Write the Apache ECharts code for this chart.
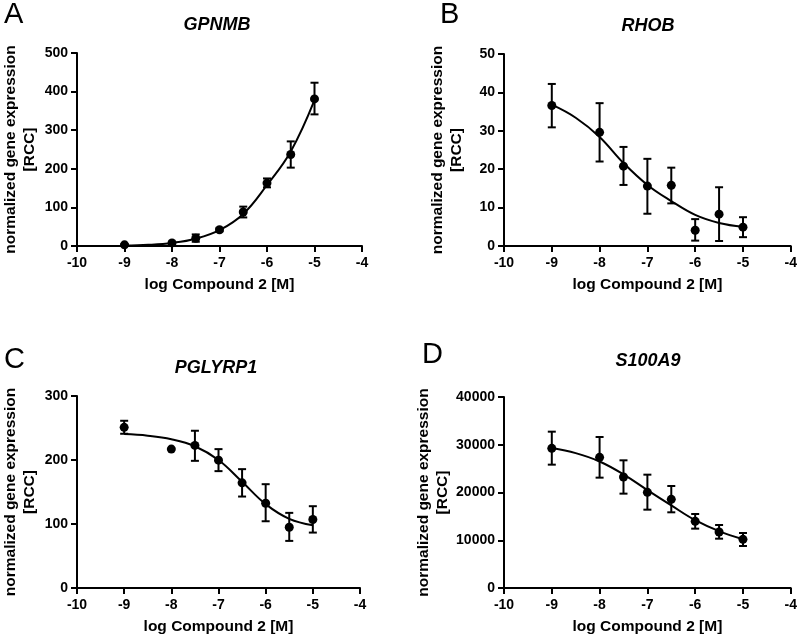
<!DOCTYPE html>
<html>
<head>
<meta charset="utf-8">
<script src="https://cdn.jsdelivr.net/npm/echarts@6/dist/echarts.min.js"></script>
<style>html,body{margin:0;padding:0;background:#fff}#c{width:800px;height:637px}</style>
</head>
<body>
<div id="c"></div>
<script>
// ---- data ----
var logConc = [-9, -8, -7.5, -7, -6.5, -6, -5.5, -5];
var curveX = [-9, -8.5, -8, -7.5, -7, -6.5, -6, -5.5, -5];

var panelLetters = ['A', 'B', 'C', 'D'];
var geneNames = ['GPNMB', 'RHOB', 'PGLYRP1', 'S100A9'];
var yMax = [500, 50, 300, 40000];
var yStep = [100, 10, 100, 10000];
var xTicks = [-10, -4, 1];

var gpnmbMean = [3, 8, 20, 42, 88, 163, 237, 381];
var gpnmbHigh = [5, 11, 30, 46, 102, 175, 271, 423];
var gpnmbLow = [1, 5, 11, 38, 74, 152, 203, 341];
var gpnmbCurve = [1, 3, 8, 19, 41, 83, 158, 245, 378];

var rhobMean = [36.6, 29.6, 20.8, 15.6, 15.8, 4.1, 8.3, 4.9];
var rhobHigh = [42.2, 37.2, 25.8, 22.7, 20.4, 7.0, 15.3, 7.5];
var rhobLow = [30.9, 22.0, 15.9, 8.4, 11.1, 1.4, 1.3, 2.3];
var rhobCurve = [36.8, 33.4, 28.4, 21.6, 15.9, 11.7, 8.1, 6.0, 5.0];

var pglyrp1Mean = [251, 217, 222.8, 199.8, 164.3, 132.5, 94.9, 107];
var pglyrp1High = [261.3, null, 245.7, 217, 185.7, 162.2, 117.4, 127.8];
var pglyrp1Low = [241, null, 198.7, 182.6, 142.9, 104.3, 73.6, 86.6];
var pglyrp1Curve = [240.5, 238, 232.5, 221.5, 200, 166, 131, 108, 98];

var s100a9Mean = [29250, 27365, 23250, 20035, 18570, 13960, 11730, 10190];
var s100a9High = [32740, 31620, 26740, 23735, 21360, 15500, 13190, 11520];
var s100a9Low = [25830, 23110, 19760, 16405, 15850, 12430, 10330, 8800];
var s100a9Curve = [29300, 28250, 26500, 23800, 20500, 17300, 14200, 11900, 10200];

var means = [gpnmbMean, rhobMean, pglyrp1Mean, s100a9Mean];
var highs = [gpnmbHigh, rhobHigh, pglyrp1High, s100a9High];
var lows = [gpnmbLow, rhobLow, pglyrp1Low, s100a9Low];
var curves = [gpnmbCurve, rhobCurve, pglyrp1Curve, s100a9Curve];

// ---- layout ----
var FONT = "'Liberation Sans', Arial, sans-serif";
var grids = [
  {left: 73, top: 53, width: 289, height: 193},
  {left: 504, top: 54, width: 287, height: 192},
  {left: 73, top: 396, width: 287, height: 192},
  {left: 504, top: 397, width: 287, height: 191}
];
var letterPos = [[4, 0], [440, 0], [4, 345], [422, 340]];
var titlePos = [[217, 16], [648, 17], [216, 359], [648, 352]];

function zip3(a, b, c) {
  var out = [];
  for (var i = 0; i < a.length; i++) out.push([a[i], b[i], c[i]]);
  return out;
}
function zip2(a, b) {
  var out = [];
  for (var i = 0; i < a.length; i++) out.push([a[i], b[i]]);
  return out;
}

function renderErr(params, api) {
  var lo = api.value(1), hi = api.value(2);
  if (lo == null || hi == null || isNaN(lo) || isNaN(hi)) return null;
  var x = api.value(0);
  var pH = api.coord([x, hi]);
  var pL = api.coord([x, lo]);
  var w = 4;
  var st = {stroke: '#000', lineWidth: 2};
  return {
    type: 'group',
    children: [
      {type: 'line', shape: {x1: pH[0], y1: pH[1], x2: pL[0], y2: pL[1]}, style: st},
      {type: 'line', shape: {x1: pH[0] - w, y1: pH[1], x2: pH[0] + w, y2: pH[1]}, style: st},
      {type: 'line', shape: {x1: pL[0] - w, y1: pL[1], x2: pL[0] + w, y2: pL[1]}, style: st}
    ]
  };
}

var titles = [], xAxes = [], yAxes = [], series = [];
for (var i = 0; i < 4; i++) {
  titles.push({
    text: panelLetters[i], left: letterPos[i][0], top: letterPos[i][1], padding: 0,
    textStyle: {fontFamily: FONT, fontSize: 29, fontWeight: 'normal', color: '#000'}
  });
  titles.push({
    text: geneNames[i], left: titlePos[i][0], top: titlePos[i][1], padding: 0, textAlign: 'center',
    textStyle: {fontFamily: FONT, fontSize: 18, fontWeight: 'bold', fontStyle: 'italic', color: '#000'}
  });
  xAxes.push({
    type: 'value', gridIndex: i, min: xTicks[0], max: xTicks[1], interval: xTicks[2],
    name: 'log Compound 2 [M]', nameLocation: 'middle', nameGap: 31,
    nameTextStyle: {fontFamily: FONT, fontSize: 15.5, fontWeight: 'bold', color: '#000'},
    axisLine: {onZero: false, lineStyle: {color: '#000', width: 2}},
    axisTick: {show: true, length: 6, lineStyle: {color: '#000', width: 2}},
    axisLabel: {margin: 10, fontFamily: FONT, fontSize: 14, fontWeight: 'bold', color: '#000'},
    splitLine: {show: false}
  });
  yAxes.push({
    type: 'value', gridIndex: i, min: 0, max: yMax[i], interval: yStep[i],
    name: 'normalized gene expression\n[RCC]', nameLocation: 'middle', nameGap: 38,
    nameTextStyle: {fontFamily: FONT, fontSize: 15.5, fontWeight: 'bold', color: '#000', lineHeight: 19},
    axisLine: {show: true, onZero: false, lineStyle: {color: '#000', width: 2}},
    axisTick: {show: true, length: 6, lineStyle: {color: '#000', width: 2}},
    axisLabel: {
      margin: 9, fontFamily: FONT, fontSize: 14, fontWeight: 'bold', color: '#000',
      formatter: function (v) { return String(v); }
    },
    splitLine: {show: false}
  });
  series.push({
    type: 'line', xAxisIndex: i, yAxisIndex: i, data: zip2(curveX, curves[i]),
    smooth: 0.4, showSymbol: false, symbol: 'none', silent: true,
    lineStyle: {color: '#000', width: 2}, z: 2
  });
  series.push({
    type: 'custom', xAxisIndex: i, yAxisIndex: i, renderItem: renderErr,
    data: zip3(logConc, lows[i], highs[i]), encode: {x: 0, y: [1, 2]}, silent: true, z: 3
  });
  series.push({
    type: 'scatter', xAxisIndex: i, yAxisIndex: i, data: zip2(logConc, means[i]),
    symbol: 'circle', symbolSize: 9, itemStyle: {color: '#000', opacity: 1}, silent: true, z: 4
  });
}

var chart = echarts.init(document.getElementById('c'), null, {renderer: 'canvas'});
chart.setOption({
  animation: false,
  backgroundColor: '#fff',
  title: titles,
  grid: grids,
  xAxis: xAxes,
  yAxis: yAxes,
  series: series
});
</script>
</body>
</html>
